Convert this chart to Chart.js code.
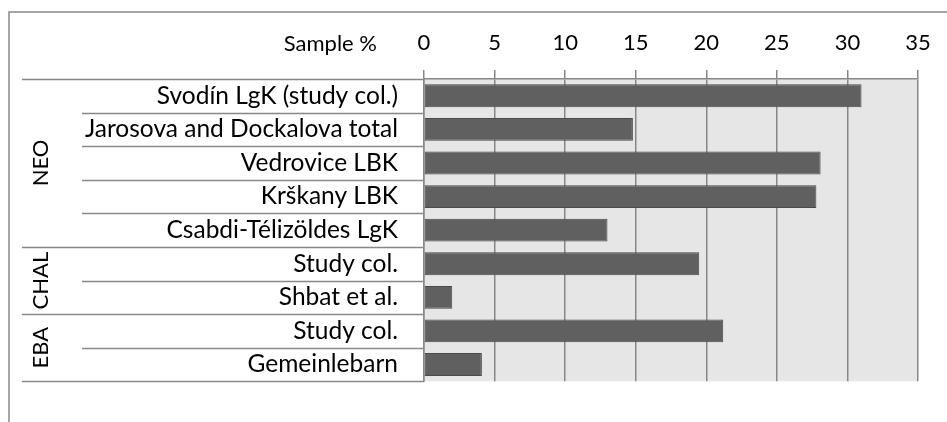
<!DOCTYPE html>
<html>
<head>
<meta charset="utf-8">
<script src="https://cdn.jsdelivr.net/npm/chart.js@4.4.1/dist/chart.umd.min.js"></script>
<style>
    html, body { margin: 0; padding: 0; background: #fff; }
    canvas { display: block; }
</style>
</head>
<body>
<canvas id="sampleChart" width="947" height="422"></canvas>
<script>
const siteLabels = [
    "Svodín LgK (study col.)",
    "Jarosova and Dockalova total",
    "Vedrovice LBK",
    "Krškany LBK",
    "Csabdi-Télizöldes LgK",
    "Study col.",
    "Shbat et al.",
    "Study col.",
    "Gemeinlebarn"
];
const samplePercent = [31.0, 14.8, 28.1, 27.8, 13.0, 19.5, 2.0, 21.2, 4.1];
const groupNames = ["NEO", "CHAL", "EBA"];
const groupSizes = [5, 2, 2];
const axisTitle = "Sample %";

const FONT = "Lato, 'Open Sans', sans-serif";
const LINE = "#888888";

// grey plot background, separators, group names, axis title
const excelLook = {
    id: "excelLook",
    beforeDraw(chart) {
        const ctx = chart.ctx;
        const a = chart.chartArea;
        ctx.save();
        ctx.fillStyle = "#e6e6e6";
        ctx.fillRect(a.left, a.top, a.right - a.left, a.bottom - a.top);
        ctx.restore();
    },
    afterDraw(chart) {
        const ctx = chart.ctx;
        const a = chart.chartArea;
        const y = chart.scales.y;
        const half = (y.getPixelForValue(1) - y.getPixelForValue(0)) / 2;
        const edge = i => y.getPixelForValue(i) - half;

        ctx.save();
        ctx.strokeStyle = LINE;
        ctx.lineWidth = 1.5;

        // outer chart border (only top and left are in frame)
        ctx.beginPath();
        ctx.moveTo(9, chart.height);
        ctx.lineTo(9, 12);
        ctx.lineTo(chart.width, 12);
        ctx.stroke();

        // row separators
        const groupEdges = [0];
        groupSizes.forEach(n => groupEdges.push(groupEdges[groupEdges.length - 1] + n));
        for (let i = 0; i <= siteLabels.length; i++) {
            const py = Math.round(edge(i)) + 0.5;
            const x0 = groupEdges.includes(i) ? 22 : 82;
            ctx.beginPath();
            ctx.moveTo(x0, py);
            ctx.lineTo(a.left, py);
            ctx.stroke();
        }

        // group names, rotated
        ctx.fillStyle = "#000";
        ctx.font = "22px " + FONT;
        ctx.textAlign = "center";
        ctx.textBaseline = "middle";
        groupNames.forEach((g, k) => {
            const mid = (edge(groupEdges[k]) + edge(groupEdges[k + 1])) / 2;
            ctx.save();
            ctx.translate(41, mid);
            ctx.rotate(-Math.PI / 2);
            ctx.fillText(g, 0, 0);
            ctx.restore();
        });

        // axis title left of the top ticks
        ctx.textAlign = "right";
        ctx.fillText(axisTitle, 377, 44);
        ctx.restore();
    }
};

new Chart(document.getElementById("sampleChart"), {
    type: "bar",
    data: {
        labels: siteLabels,
        datasets: [{
            data: samplePercent,
            backgroundColor: "#606060",
            borderColor: "#4a4a4a",
            borderWidth: 1,
            borderSkipped: false,
            categoryPercentage: 1,
            barPercentage: 0.68
        }]
    },
    options: {
        indexAxis: "y",
        responsive: false,
        animation: false,
        layout: { padding: { top: 0, left: 0, right: 29, bottom: 25 } },
        plugins: {
            legend: { display: false },
            tooltip: { enabled: false }
        },
        scales: {
            x: {
                position: "top",
                min: 0,
                max: 35,
                afterFit: s => { s.height = 79; },
                ticks: {
                    stepSize: 5,
                    color: "#000",
                    padding: 14,
                    font: { family: FONT, size: 22 }
                },
                grid: { color: "#878787", lineWidth: 1.5, tickLength: 9 },
                border: { color: LINE, width: 1.5 }
            },
            y: {
                afterFit: s => { s.width = 424; },
                ticks: {
                    color: "#000",
                    padding: 26,
                    font: { family: FONT, size: 24.5 }
                },
                grid: { display: false, drawTicks: false },
                border: { color: LINE, width: 1.5 }
            }
        }
    },
    plugins: [excelLook]
});
</script>
</body>
</html>
